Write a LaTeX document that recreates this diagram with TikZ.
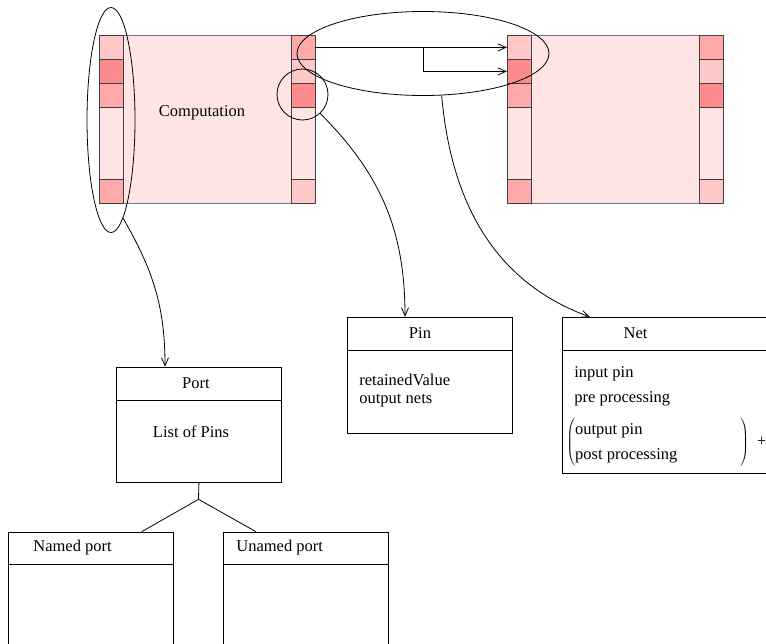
\documentclass[tikz,border=0pt]{standalone}
\usepackage{fontspec}
\setmainfont{Liberation Serif}
\usetikzlibrary{shapes.geometric,arrows.meta}
\definecolor{cellLight}{HTML}{FFC8C8}
\definecolor{cellMid}{HTML}{FFAAAA}
\definecolor{cellDark}{HTML}{FF8C8C}
\definecolor{compFill}{HTML}{FFE4E4}

\begin{document}
\begin{tikzpicture}[x=1pt, y=-1pt, line width=0.8pt, font=\fontsize{16.5}{24.5}\selectfont,
     compbody/.style={draw=black!55, fill=compFill, anchor=north west, minimum width=216pt, minimum height=168pt, inner sep=0pt},
     cell/.style={draw=black!75, anchor=north west, minimum width=24pt, inner sep=0pt},
     select/.style={draw, ellipse, inner sep=0pt},
     link/.style={-{Straight Barb[length=8pt,width=7pt]}},
     classbox/.style={draw, anchor=north west, minimum width=165pt, inner sep=0pt},
     title/.style={inner sep=0pt},
     entry/.style={anchor=west, inner sep=0pt}]

   \useasboundingbox (0,0) rectangle (766,643);
   \clip (0,0) rectangle (766,643);

   % two computations with their ports
   \foreach \comp/\xa in {L/98.5, R/507} {
     \node[compbody] (\comp) at (\xa,35) {};
     \foreach \i/\ya/\h/\col in {1/35/24/cellLight, 2/59/24/cellDark, 3/83/24/cellMid, 4/107/72/compFill, 5/179/24/cellMid}
       \node[cell, fill=\col, minimum height=\h pt] (\comp-in-\i) at (\xa,\ya) {};
     \foreach \i/\ya/\h/\col in {1/35/24/cellMid, 2/59/24/cellLight, 3/83/24/cellDark, 4/107/72/compFill, 5/179/24/cellLight}
       \node[cell, fill=\col, minimum height=\h pt] (\comp-out-\i) at (\xa+192,\ya) {};
   }
   \node[title] (comptext) at (202,113) {Computation};

   \coordinate (fork) at (423,47);
   \draw[link] (L-out-1.east) -- (R-in-1.west);
   \draw[link] (fork) |- (R-in-2.west);

   \node[select, minimum width=48pt, minimum height=225pt] (selPort) at (111,120) {};
   \node[select, minimum width=51pt, minimum height=51pt] (selPin) at (302.5,94.5) {};
   \node[select, minimum width=252pt, minimum height=84pt] (selNet) at (423,53.5) {};

   % classes
   \node[classbox, minimum height=116pt] (pin) at (346.7,316.7) {};
   \draw ([yshift=-33.3pt]pin.north west) -- ([yshift=-33.3pt]pin.north east);
   \node[title] (pinT) at (420,333.5) {Pin};
   \node[entry] (pinA) at (359,380) {retainedValue};
   \node[entry] (pinB) at (359,401) {output nets};

   \node[classbox, minimum width=220pt, minimum height=156pt] (net) at (561.7,317) {};
   \draw ([yshift=-33pt]net.north west) -- ([yshift=-33pt]net.north east);
   \node[title] (netT) at (635.5,333.5) {Net};
   \node[entry] (netA) at (574,374) {input pin};
   \node[entry] (netB) at (574,399) {pre processing};
   \node[entry] (netC) at (566,442) {$\left(\begin{tabular}{@{}l@{}}output pin\\post processing\end{tabular}\hspace{63pt}\right)$\hspace{8pt}+};

   \node[classbox, minimum height=115.3pt] (port) at (116,366.7) {};
   \draw ([yshift=-33.3pt]port.north west) -- ([yshift=-33.3pt]port.north east);
   \node[title] (portT) at (196,383.3) {Port};
   \node[title] (portA) at (191,431.7) {List of Pins};

   \node[classbox, minimum height=150pt] (named) at (8.3,531.7) {};
   \draw ([yshift=-32.6pt]named.north west) -- ([yshift=-32.6pt]named.north east);
   \node[entry] (namedT) at (33,548) {Named port};

   \node[classbox, minimum height=150pt] (unamed) at (223.3,531.7) {};
   \draw ([yshift=-32.6pt]unamed.north west) -- ([yshift=-32.6pt]unamed.north east);
   \node[entry] (unamedT) at (236,548) {Unamed port};

   \coordinate (split) at (198.5,499.3);
   \draw (port.south) -- (split) -- ([xshift=133.4pt]named.north west);
   \draw (split) -- ([xshift=32.7pt]unamed.north west);

   % what the selections stand for
   \draw[link] (selPort.-83) to[out=-60,in=90] ([xshift=49pt]port.north west);
   \draw[link] (selPin.-47) to[out=-45,in=90] ([xshift=58.3pt]pin.north west);
   \draw[link] (selNet.-66) to[out=-85,in=160] ([xshift=28.3pt]net.north west);
\end{tikzpicture}
\end{document}
